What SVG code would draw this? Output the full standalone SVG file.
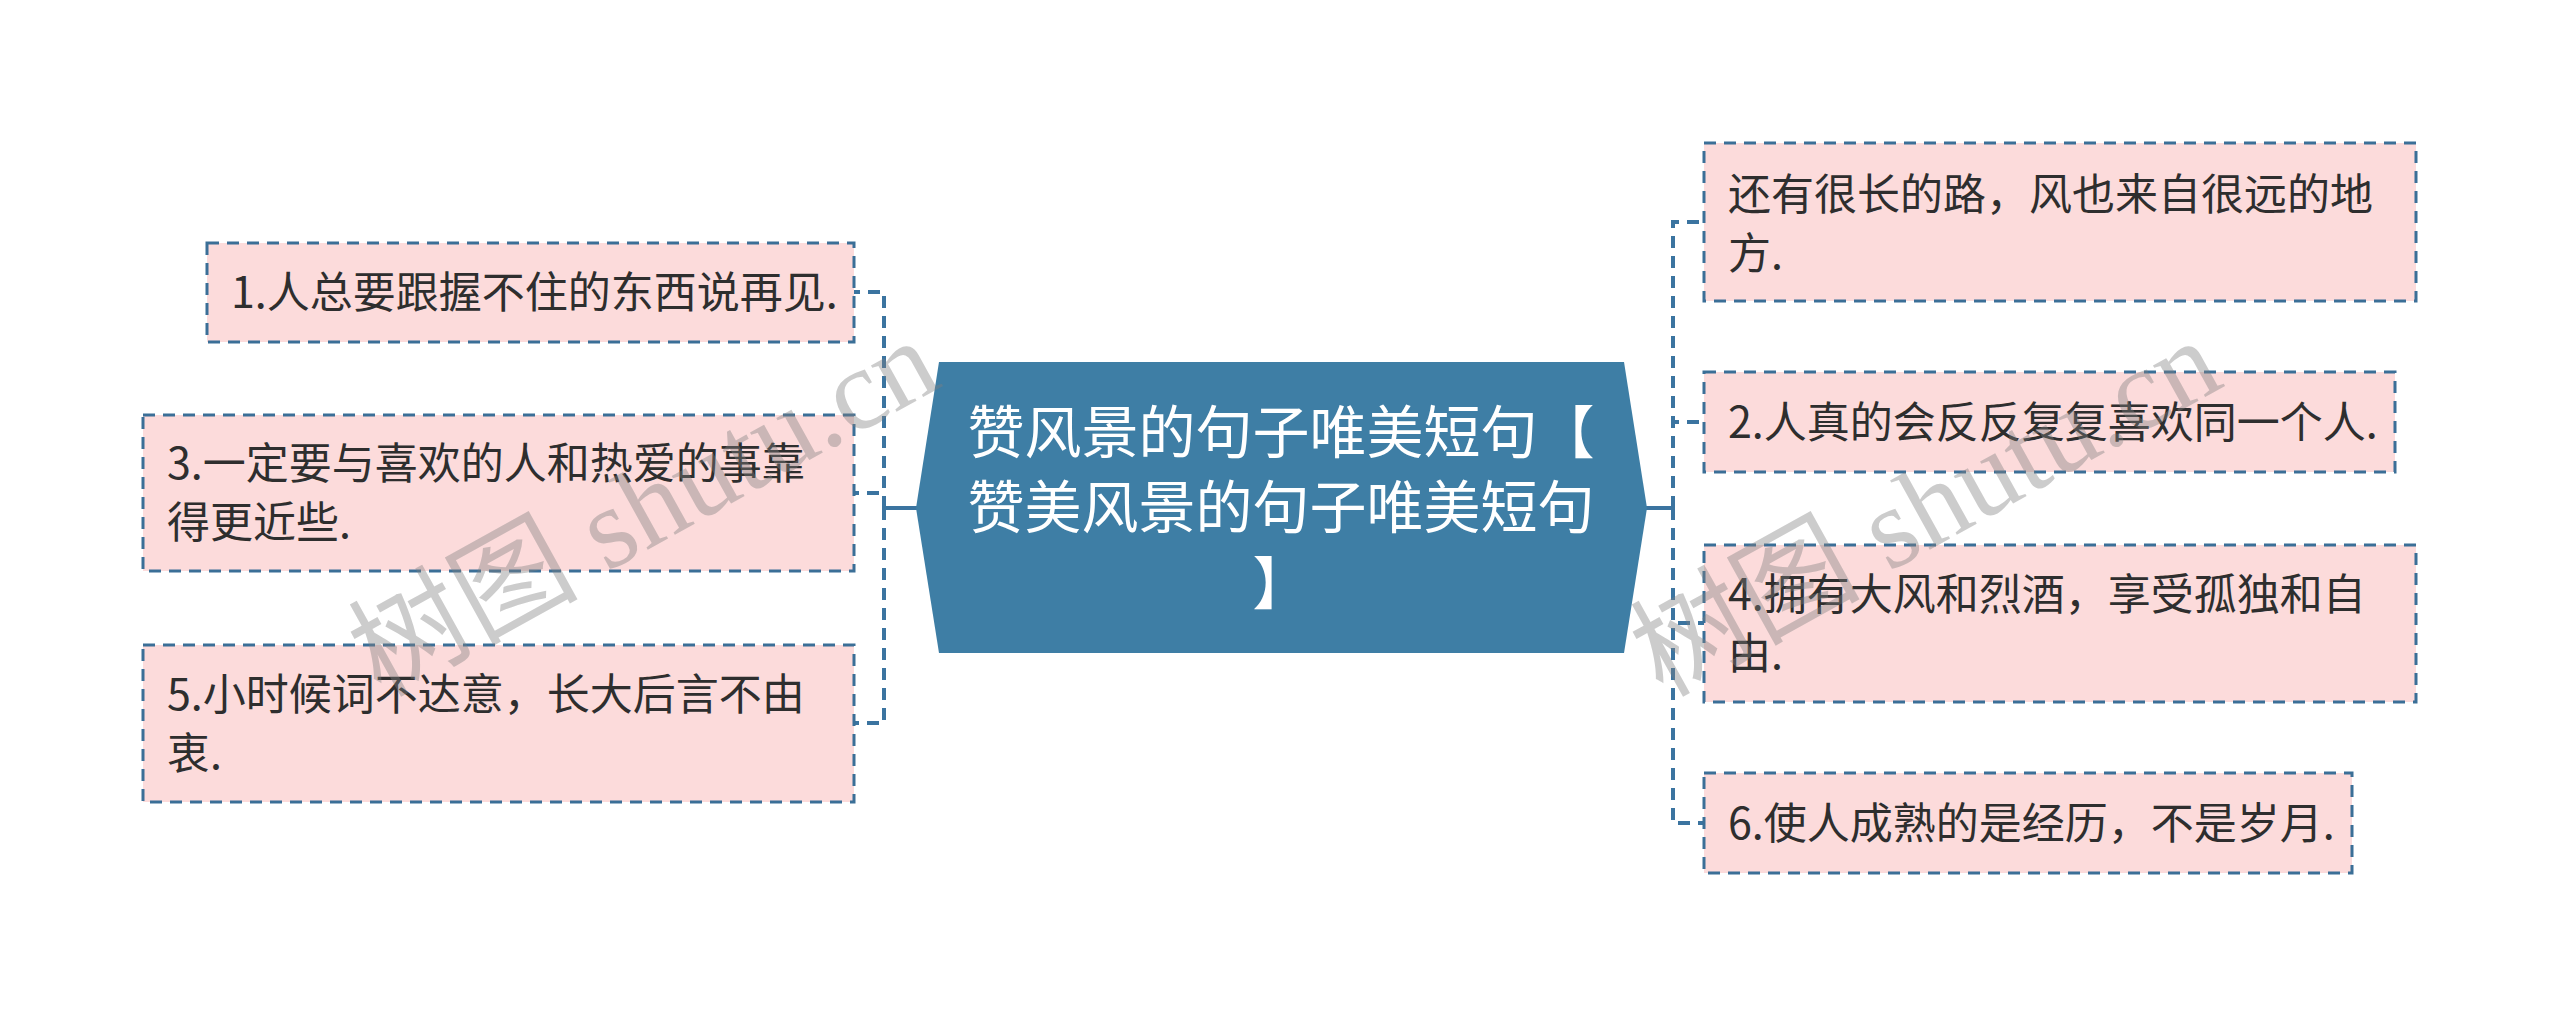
<svg xmlns="http://www.w3.org/2000/svg" width="2560" height="1017" viewBox="0 0 2560 1017">
<style>
.bg{fill:#ffffff}
.leaf{fill:#fcdbdb;stroke:#3b6f97;stroke-width:3;stroke-dasharray:12 8}
.lt{font-family:"Noto Sans CJK SC","Noto Sans",sans-serif;font-size:43px;fill:#2e2e2e}
.root{fill:#3e7ea5}
.rt{font-family:"Noto Sans CJK SC","Noto Sans",sans-serif;font-size:57px;fill:#ffffff;text-anchor:middle}
.dash{fill:none;stroke:#3b74a0;stroke-width:4;stroke-dasharray:12 8}
.solid{fill:none;stroke:#3b74a0;stroke-width:4}
.wm{font-family:"Liberation Serif","Noto Sans CJK SC",serif;font-size:115px;fill:#808080;fill-opacity:0.4;text-anchor:middle}
</style>
<rect class="bg" x="0" y="0" width="2560" height="1017"/>
<g id="connectors">
<line class="solid" x1="884" y1="508" x2="917" y2="508"/>
<path class="dash" d="M884 508 V292 H854"/>
<path class="dash" d="M884 508 V493 H854"/>
<path class="dash" d="M884 508 V723 H854"/>
<line class="solid" x1="1646" y1="508" x2="1673" y2="508"/>
<path class="dash" d="M1673 508 V222 H1704"/>
<path class="dash" d="M1673 508 V422 H1704"/>
<path class="dash" d="M1673 508 V623 H1704"/>
<path class="dash" d="M1673 508 V823 H1704"/>
</g>
<g id="root">
<polygon class="root" points="939,362 1624,362 1647,508 1624,653 939,653 916,508"/>
<text class="rt" x="1281" y="453">赞风景的句子唯美短句【</text>
<text class="rt" x="1281" y="528">赞美风景的句子唯美短句</text>
<text class="rt" x="1281" y="604">】</text>
</g>
<g id="node1">
<rect class="leaf" x="207" y="243" width="647" height="99"/>
<text class="lt" x="231" y="308">1.人总要跟握不住的东西说再见.</text>
</g>
<g id="node3">
<rect class="leaf" x="143" y="415" width="711" height="156"/>
<text class="lt" x="167" y="479">3.一定要与喜欢的人和热爱的事靠</text>
<text class="lt" x="167" y="538">得更近些.</text>
</g>
<g id="node5">
<rect class="leaf" x="143" y="645" width="711" height="157"/>
<text class="lt" x="167" y="710">5.小时候词不达意，长大后言不由</text>
<text class="lt" x="167" y="769">衷.</text>
</g>
<g id="nodeR1">
<rect class="leaf" x="1704" y="143" width="712" height="158"/>
<text class="lt" x="1728" y="210">还有很长的路，风也来自很远的地</text>
<text class="lt" x="1728" y="269">方.</text>
</g>
<g id="node2">
<rect class="leaf" x="1704" y="372" width="691" height="100"/>
<text class="lt" x="1728" y="438">2.人真的会反反复复喜欢同一个人.</text>
</g>
<g id="node4">
<rect class="leaf" x="1704" y="545" width="712" height="157"/>
<text class="lt" x="1728" y="610">4.拥有大风和烈酒，享受孤独和自</text>
<text class="lt" x="1728" y="669">由.</text>
</g>
<g id="node6">
<rect class="leaf" x="1704" y="773" width="648" height="100"/>
<text class="lt" x="1728" y="839">6.使人成熟的是经历，不是岁月.</text>
</g>
<g id="watermarks">
<text class="wm" transform="translate(645,510) rotate(-29)" x="0" y="36">树图 shutu.cn</text>
<text class="wm" transform="translate(1927,510) rotate(-29)" x="0" y="36">树图 shutu.cn</text>
</g>
</svg>
